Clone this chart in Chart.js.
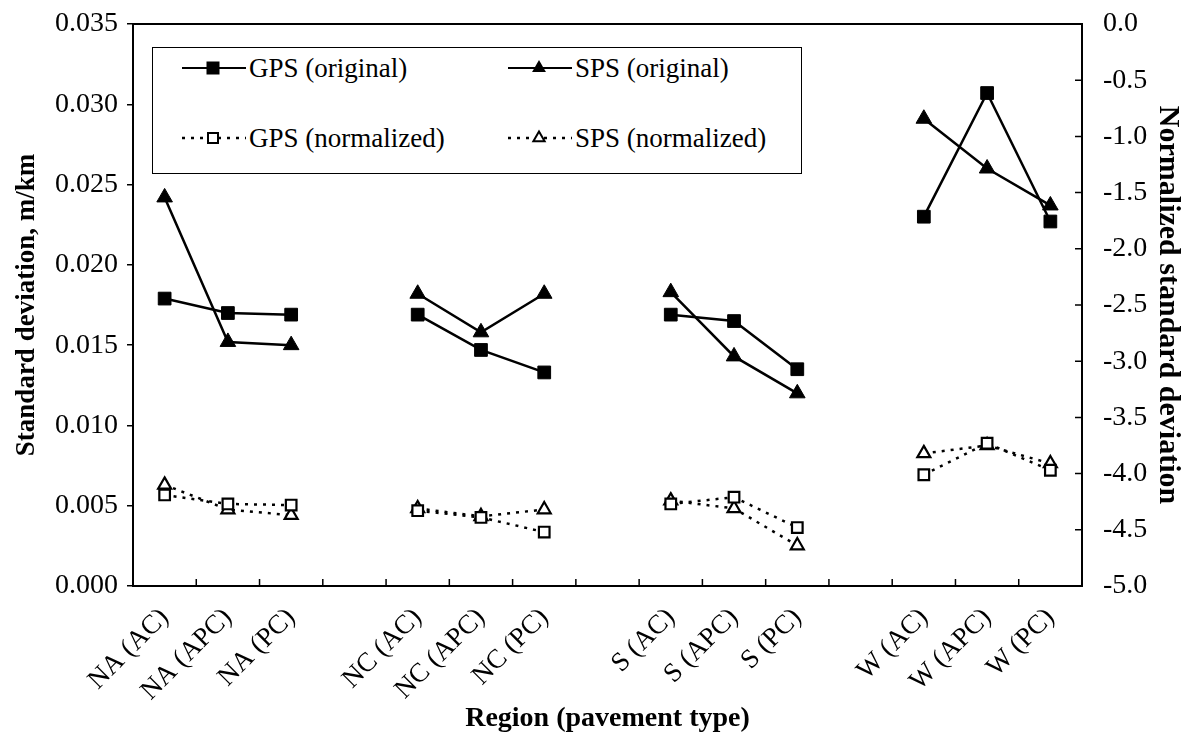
<!DOCTYPE html>
<html>
<head>
<meta charset="utf-8">
<script src="https://cdn.jsdelivr.net/npm/chart.js@4.4.1/dist/chart.umd.min.js"></script>
<style>
  html, body { margin: 0; padding: 0; background: #fff; }
  #wrap { position: relative; width: 1190px; height: 744px; }
  #legend {
    position: absolute; left: 152px; top: 47px; width: 648px; height: 125px;
    border: 1.5px solid #000; background: #fff;
    font-family: 'Liberation Serif', 'Times New Roman', serif; font-size: 27px; color: #000;
  }
  .item { position: absolute; height: 40px; display: flex; align-items: center; white-space: nowrap; }
  .item svg { margin-right: 3px; }
</style>
</head>
<body>
<div id="wrap">
  <canvas id="chart" width="1190" height="744"></canvas>
  <div id="legend"></div>
</div>
<script>
// ── Data ─────────────────────────────────────────────
const categories = ['NA (AC)', 'NA (APC)', 'NA (PC)', '', 'NC (AC)', 'NC (APC)', 'NC (PC)', '',
                    'S (AC)', 'S (APC)', 'S (PC)', '', 'W (AC)', 'W (APC)', 'W (PC)'];
const seriesNames = ['GPS (original)', 'SPS (original)', 'GPS (normalized)', 'SPS (normalized)'];
const gpsOriginal = [0.0179, 0.0170, 0.0169, null, 0.0169, 0.0147, 0.0133, null,
                     0.0169, 0.0165, 0.0135, null, 0.0230, 0.0307, 0.0227];
const spsOriginal = [0.0242, 0.0152, 0.0150, null, 0.0182, 0.0158, 0.0182, null,
                     0.0183, 0.0143, 0.0120, null, 0.0291, 0.0260, 0.0237];
const gpsNormalized = [-4.19, -4.27, -4.28, null, -4.33, -4.39, -4.52, null,
                       -4.27, -4.21, -4.48, null, -4.01, -3.73, -3.97];
const spsNormalized = [-4.10, -4.32, -4.37, null, -4.31, -4.38, -4.32, null,
                       -4.24, -4.31, -4.64, null, -3.82, -3.75, -3.91];
const leftAxisRange = [0, 0.035, 0.005];   // min, max, step
const rightAxisRange = [-5, 0, 0.5];

const FONT = "'Liberation Serif', 'Times New Roman', serif";

// ── Inner tick marks + plot frame ────────────────────
const framePlugin = {
    id: 'frame',
    afterDraw(chart) {
        const { ctx, chartArea: a, scales } = chart;
        const x = scales.x, y2 = scales.y2;
        ctx.save();
        ctx.strokeStyle = '#000';
        ctx.lineWidth = 2;
        ctx.strokeRect(a.left, a.top, a.right - a.left, a.bottom - a.top);
        ctx.lineWidth = 1.5;
        ctx.beginPath();
        for (let i = 1; i < x.ticks.length; i++) {
            const px = (x.getPixelForTick(i - 1) + x.getPixelForTick(i)) / 2;
            ctx.moveTo(px, a.bottom);
            ctx.lineTo(px, a.bottom - 7);
        }
        y2.ticks.forEach((t, i) => {
            const py = y2.getPixelForTick(i);
            ctx.moveTo(a.right, py);
            ctx.lineTo(a.right - 7, py);
        });
        ctx.stroke();
        ctx.restore();
    }
};

const solid = (label, data, style) => ({
    label, data, yAxisID: 'y',
    borderColor: '#000', borderWidth: 2.5,
    pointStyle: style, pointRadius: 9, pointHoverRadius: 9,
    pointBackgroundColor: '#000', pointBorderColor: '#000', pointBorderWidth: 1,
    spanGaps: false, tension: 0
});
const dotted = (label, data, style, r) => ({
    label, data, yAxisID: 'y2',
    borderColor: '#000', borderWidth: 2.5, borderDash: [3, 6],
    pointStyle: style, pointRadius: r, pointHoverRadius: r,
    pointBackgroundColor: '#fff', pointBorderColor: '#000', pointBorderWidth: 2.2,
    spanGaps: false, tension: 0
});

const ctx = document.getElementById('chart').getContext('2d');
new Chart(ctx, {
    type: 'line',
    data: {
        labels: categories,
        datasets: [
            solid(seriesNames[0], gpsOriginal, 'rect'),
            solid(seriesNames[1], spsOriginal, 'triangle'),
            dotted(seriesNames[2], gpsNormalized, 'rect', 7.5),
            dotted(seriesNames[3], spsNormalized, 'triangle', 7.5)
        ]
    },
    options: {
        responsive: false,
        animation: false,
        layout: { padding: { top: 24, left: 0, right: 0, bottom: 0 } },
        plugins: {
            legend: { display: false },
            tooltip: { enabled: false }
        },
        scales: {
            x: {
                type: 'category',
                offset: true,
                grid: { display: false },
                border: { display: false },
                ticks: {
                    autoSkip: false, maxRotation: 45, minRotation: 45,
                    color: '#000', padding: 8,
                    font: { family: FONT, size: 27 }
                },
                title: {
                    display: true, text: 'Region (pavement type)', color: '#000',
                    font: { family: FONT, size: 28, weight: 'bold' },
                    padding: { top: 0, bottom: 8 }
                },
                afterFit: s => { s.height = 158; s.paddingLeft = 0; s.paddingRight = 0; }
            },
            y: {
                position: 'left',
                min: leftAxisRange[0], max: leftAxisRange[1],
                grid: { drawOnChartArea: false, drawTicks: true, tickLength: 6, color: '#000', lineWidth: 1.5 },
                border: { display: false },
                ticks: {
                    stepSize: leftAxisRange[2], color: '#000', padding: 9,
                    font: { family: FONT, size: 28 },
                    callback: v => v.toFixed(3)
                },
                title: {
                    display: true, text: 'Standard deviation, m/km', color: '#000',
                    font: { family: FONT, size: 27, weight: 'bold' },
                    padding: { top: 11, bottom: 0 }
                },
                afterFit: s => { s.width = 133; s.paddingTop = 0; s.paddingBottom = 0; }
            },
            y2: {
                position: 'right',
                min: rightAxisRange[0], max: rightAxisRange[1],
                grid: { display: false },
                border: { display: false },
                ticks: {
                    stepSize: rightAxisRange[2], color: '#000', padding: 13,
                    font: { family: FONT, size: 28 },
                    callback: v => v.toFixed(1)
                },
                title: {
                    display: true, text: 'Normalized standard deviation', color: '#000',
                    font: { family: FONT, size: 30, weight: 'bold' },
                    padding: { top: 4, bottom: 0 }
                },
                afterFit: s => { s.width = 108; s.paddingTop = 0; s.paddingBottom = 0; }
            }
        }
    },
    plugins: [framePlugin]
});

// ── Legend (HTML overlay) ────────────────────────────
function sampleSvg(style, filled, dashed) {
    const w = 64, h = 20, cx = 31, cy = 10;
    const line = `<line x1="0" y1="${cy}" x2="${w}" y2="${cy}" stroke="#000" stroke-width="${dashed ? 2.5 : 2}"` +
        (dashed ? ' stroke-dasharray="3 6"' : '') + '/>';
    const fill = filled ? '#000' : '#fff';
    const s = filled ? 13 : 10;
    let mark;
    if (style === 'rect') {
        mark = `<rect x="${cx - s / 2}" y="${cy - s / 2}" width="${s}" height="${s}" fill="${fill}" stroke="#000" stroke-width="${filled ? 0 : 2}"/>`;
    } else {
        const r = filled ? 8 : 6.5;
        const p = [[cx, cy - r], [cx + r * 0.866, cy + r / 2], [cx - r * 0.866, cy + r / 2]];
        mark = `<polygon points="${p.map(q => q.join(',')).join(' ')}" fill="${fill}" stroke="#000" stroke-width="${filled ? 0 : 2}"/>`;
    }
    return `<svg width="${w}" height="${h}" viewBox="0 0 ${w} ${h}">${line}${mark}</svg>`;
}
const legendEl = document.getElementById('legend');
const styles = ['rect', 'triangle', 'rect', 'triangle'];
seriesNames.forEach((name, i) => {
    const col = i % 2, row = Math.floor(i / 2);
    const div = document.createElement('div');
    div.className = 'item';
    div.style.left = (col === 0 ? 29 : 355) + 'px';
    div.style.top = (row === 0 ? 0 : 70) + 'px';
    div.innerHTML = sampleSvg(styles[i], row === 0, row === 1) + '<span>' + name + '</span>';
    legendEl.appendChild(div);
});
</script>
</body>
</html>
